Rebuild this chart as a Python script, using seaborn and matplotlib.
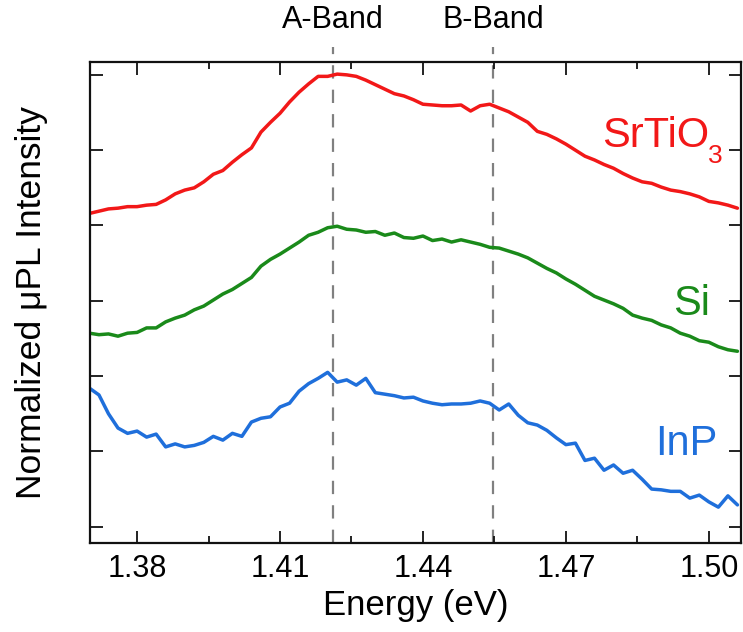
import numpy as np
import pandas as pd
import matplotlib
matplotlib.use("Agg")
import matplotlib.pyplot as plt
import seaborn as sns

# photon energy grid (eV)
energy = [1.370, 1.372, 1.374, 1.376, 1.378, 1.380, 1.382, 1.384, 1.386, 1.388,
          1.390, 1.392, 1.394, 1.396, 1.398, 1.400, 1.402, 1.404, 1.406, 1.408,
          1.410, 1.412, 1.414, 1.416, 1.418, 1.420, 1.422, 1.424, 1.426, 1.428,
          1.430, 1.432, 1.434, 1.436, 1.438, 1.440, 1.442, 1.444, 1.446, 1.448,
          1.450, 1.452, 1.454, 1.456, 1.458, 1.460, 1.462, 1.464, 1.466, 1.468,
          1.470, 1.472, 1.474, 1.476, 1.478, 1.480, 1.482, 1.484, 1.486, 1.488,
          1.490, 1.492, 1.494, 1.496, 1.498, 1.500, 1.502, 1.504, 1.506]

# normalized uPL intensity, offset per substrate
srtio3 = [4.16, 4.19, 4.22, 4.23, 4.25, 4.25, 4.27, 4.28, 4.34, 4.42,
          4.47, 4.50, 4.58, 4.68, 4.73, 4.84, 4.94, 5.03, 5.24, 5.37,
          5.49, 5.64, 5.77, 5.88, 5.98, 5.98, 6.01, 6.00, 5.98, 5.93,
          5.87, 5.81, 5.75, 5.72, 5.67, 5.61, 5.60, 5.59, 5.59, 5.60,
          5.52, 5.59, 5.61, 5.56, 5.51, 5.44, 5.37, 5.25, 5.21, 5.15,
          5.08, 5.00, 4.92, 4.87, 4.81, 4.76, 4.69, 4.63, 4.58, 4.56,
          4.51, 4.47, 4.45, 4.42, 4.38, 4.32, 4.30, 4.27, 4.23]
si = [2.57, 2.55, 2.56, 2.53, 2.57, 2.58, 2.64, 2.64, 2.72, 2.77,
      2.81, 2.88, 2.93, 3.01, 3.09, 3.15, 3.23, 3.31, 3.46, 3.55,
      3.62, 3.70, 3.78, 3.87, 3.91, 3.97, 3.99, 3.95, 3.94, 3.91,
      3.92, 3.87, 3.90, 3.84, 3.83, 3.86, 3.80, 3.82, 3.78, 3.81,
      3.78, 3.75, 3.71, 3.70, 3.66, 3.62, 3.57, 3.50, 3.43, 3.37,
      3.29, 3.22, 3.14, 3.06, 3.01, 2.96, 2.90, 2.81, 2.77, 2.74,
      2.68, 2.64, 2.57, 2.53, 2.47, 2.45, 2.39, 2.35, 2.33]
inp = [1.84, 1.75, 1.50, 1.31, 1.24, 1.27, 1.19, 1.23, 1.06, 1.10,
       1.06, 1.08, 1.12, 1.20, 1.15, 1.24, 1.20, 1.39, 1.44, 1.46,
       1.59, 1.64, 1.80, 1.90, 1.97, 2.05, 1.92, 1.95, 1.88, 1.97,
       1.78, 1.76, 1.74, 1.71, 1.72, 1.67, 1.64, 1.62, 1.63, 1.63,
       1.64, 1.67, 1.64, 1.55, 1.63, 1.48, 1.38, 1.35, 1.28, 1.18,
       1.09, 1.11, 0.88, 0.91, 0.75, 0.82, 0.71, 0.75, 0.63, 0.50,
       0.49, 0.47, 0.47, 0.38, 0.42, 0.33, 0.26, 0.41, 0.29]

samples = ["SrTiO3", "Si", "InP"]
colors = {"SrTiO3": "#f21818", "Si": "#1a8a1a", "InP": "#1f6fdb"}
bands = {"A-Band": 1.4211, "B-Band": 1.4547}

df = pd.concat([
    pd.DataFrame({"energy": energy, "intensity": srtio3, "sample": "SrTiO3"}),
    pd.DataFrame({"energy": energy, "intensity": si, "sample": "Si"}),
    pd.DataFrame({"energy": energy, "intensity": inp, "sample": "InP"}),
])

sns.set_style("ticks")
plt.rcParams["font.family"] = ["Liberation Sans", "DejaVu Sans"]
plt.rcParams["text.color"] = "black"
plt.rcParams["axes.labelcolor"] = "black"

fig = plt.figure(figsize=(7.43, 6.32), dpi=100)
ax = fig.add_axes([0.121, 0.1413, 0.876, 0.7611])

sns.lineplot(data=df, x="energy", y="intensity", hue="sample", hue_order=samples,
             palette=colors, linewidth=2.5, legend=False, ax=ax, sort=False)

for name, e in bands.items():
    ax.axvline(e, ymin=0, ymax=1.03, color="#808080", lw=1.6,
               dashes=(6, 5), clip_on=False, zorder=0)
    ax.text(e, 1.07, name, transform=ax.get_xaxis_transform(),
            ha="center", va="baseline", fontsize=22)

# sample labels (subscript drawn separately, it sits low in the original)
ax.text(1.4776, 5.04, "SrTiO", color=colors["SrTiO3"], fontsize=30,
        ha="left", va="baseline")
ax.text(1.4999, 4.83, "3", color=colors["SrTiO3"], fontsize=19,
        ha="left", va="baseline")
ax.text(1.4925, 2.81, "Si", color=colors["Si"], fontsize=30,
        ha="left", va="baseline")
ax.text(1.4887, 0.95, "InP", color=colors["InP"], fontsize=30,
        ha="left", va="baseline")

ax.set_xlim(1.3701, 1.5067)
ax.set_ylim(-0.212, 6.175)
ax.set_xticks([1.38, 1.41, 1.44, 1.47, 1.50])
ax.set_xticklabels(["1.38", "1.41", "1.44", "1.47", "1.50"])
ax.set_xticks([1.395, 1.425, 1.455, 1.485], minor=True)
ax.set_yticks([0, 1, 2, 3, 4, 5, 6])
ax.set_yticklabels([])
ax.tick_params(which="both", direction="in", top=True, right=True,
               width=1.3, colors="#111111", labelcolor="black",
               labelsize=22, pad=8)
ax.tick_params(which="major", length=9)
ax.tick_params(which="minor", length=5)
for s in ax.spines.values():
    s.set_linewidth(1.6)
    s.set_color("#111111")

ax.set_xlabel("Energy (eV)", fontsize=25, labelpad=4)
ax.set_ylabel("Normalized μPL Intensity", fontsize=25.5, labelpad=22)

fig.savefig("out.png", dpi=100)
